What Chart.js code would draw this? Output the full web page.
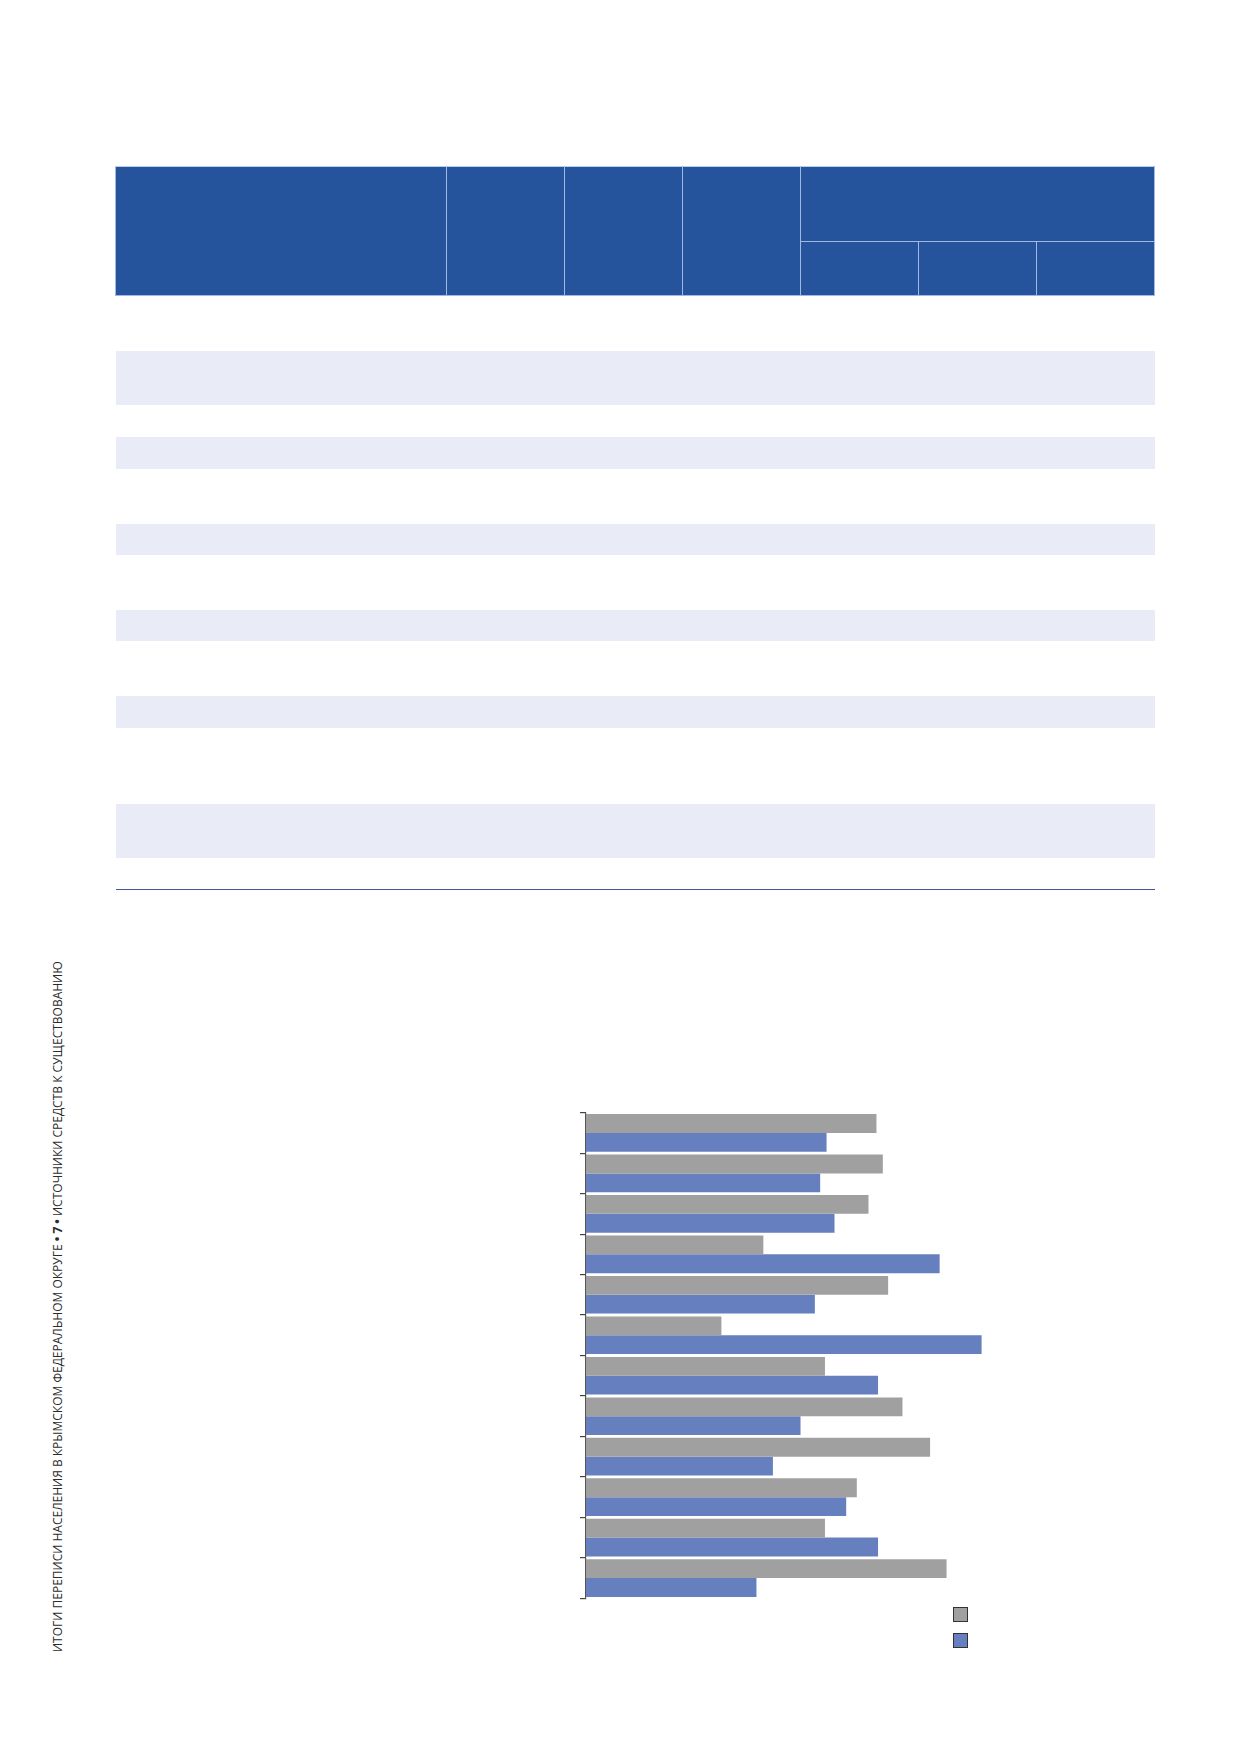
<!DOCTYPE html>
<html lang="ru">
<head>
<meta charset="utf-8">
<title>Источники средств к существованию</title>
<script src="https://cdn.jsdelivr.net/npm/chart.js@4.4.1/dist/chart.umd.min.js"></script>
<style>
  html, body { margin: 0; padding: 0; background: #fff; }
  body { width: 1239px; height: 1754px; position: relative; overflow: hidden; font-family: "Open Sans", sans-serif; }

  /* ---- таблица ---- */
  .tbl { position: absolute; left: 115px; top: 166px; width: 1039px; border-collapse: collapse; table-layout: fixed; }
  .tbl th { background: #26549c; border: 1px solid #9fb8e4; padding: 0; }
  .tbl thead tr:first-child th { border-top-color: #b9cdee; }
  .tbl td { padding: 0; border: none; }
  .tbl tbody tr:nth-child(even) td { background: #e9ecf7; }
  .tbl tbody tr:last-child td { border-bottom: 1.5px solid #3d5a9a; }

  /* ---- боковой колонтитул ---- */
  .side {
    position: absolute; left: 50px; top: 900px; height: 752px; width: 16px;
    writing-mode: vertical-rl; transform: rotate(180deg);
    font-size: 12px; color: #2b2b2b; white-space: nowrap; text-align: start;
    line-height: 16px;
  }
  .side b { font-weight: 700; }

  /* ---- график ---- */
  .chart-box { position: absolute; left: 560px; top: 1100px; width: 600px; height: 520px; }
  .legend { position: absolute; left: 953px; top: 1607px; }
  .legend .item { width: 12.5px; height: 12.5px; border: 1.5px solid #333; margin-bottom: 11.5px; }
</style>
</head>
<body>

<table class="tbl">
  <colgroup>
    <col style="width:331px"><col style="width:118px"><col style="width:118px"><col style="width:118px">
    <col style="width:118px"><col style="width:118px"><col style="width:118px">
  </colgroup>
  <thead>
    <tr style="height:75px"><th rowspan="2"></th><th rowspan="2"></th><th rowspan="2"></th><th rowspan="2"></th><th colspan="3"></th></tr>
    <tr style="height:54px"><th></th><th></th><th></th></tr>
  </thead>
  <tbody>
    <tr style="height:55px"><td colspan="7"></td></tr>
    <tr style="height:54px"><td colspan="7"></td></tr>
    <tr style="height:32px"><td colspan="7"></td></tr>
    <tr style="height:32px"><td colspan="7"></td></tr>
    <tr style="height:55px"><td colspan="7"></td></tr>
    <tr style="height:31px"><td colspan="7"></td></tr>
    <tr style="height:55px"><td colspan="7"></td></tr>
    <tr style="height:31px"><td colspan="7"></td></tr>
    <tr style="height:55px"><td colspan="7"></td></tr>
    <tr style="height:32px"><td colspan="7"></td></tr>
    <tr style="height:76px"><td colspan="7"></td></tr>
    <tr style="height:54px"><td colspan="7"></td></tr>
    <tr style="height:32px"><td colspan="7"></td></tr>
  </tbody>
</table>

<div class="side">ИТОГИ ПЕРЕПИСИ НАСЕЛЕНИЯ В КРЫМСКОМ ФЕДЕРАЛЬНОМ ОКРУГЕ <b>• 7 •</b> ИСТОЧНИКИ СРЕДСТВ К СУЩЕСТВОВАНИЮ</div>

<div class="chart-box"><canvas id="barChart" width="600" height="520"></canvas></div>
<div class="legend" id="legend"></div>

<script>
/* ---- Данные (доли, %) ---- */
const categories = ['1', '2', '3', '4', '5', '6', '7', '8', '9', '10', '11', '12'];
const seriesNames = ['Серия 1', 'Серия 2'];
const grayValues = [54.7, 55.9, 53.2, 33.4, 56.9, 25.5, 45.0, 59.6, 64.8, 51.0, 45.0, 67.9];
const blueValues = [45.3, 44.1, 46.8, 66.6, 43.1, 74.5, 55.0, 40.4, 35.2, 49.0, 55.0, 32.1];

const COLOR_GRAY = '#a0a0a0';
const COLOR_BLUE = '#667fbf';

document.addEventListener('DOMContentLoaded', () => {
  initBarChart();
  initLegend();
});

function initBarChart() {
  const canvas = document.getElementById('barChart');
  if (!canvas) return;

  new Chart(canvas, {
    type: 'bar',
    data: {
      labels: categories,
      datasets: [
        { label: seriesNames[0], data: grayValues, backgroundColor: COLOR_GRAY },
        { label: seriesNames[1], data: blueValues, backgroundColor: COLOR_BLUE },
      ],
    },
    options: {
      indexAxis: 'y',
      responsive: false,
      animation: false,
      devicePixelRatio: 1,
      layout: { padding: { left: 0, top: 12.7, right: 43, bottom: 21.7 } },
      datasets: { bar: { categoryPercentage: 0.93, barPercentage: 1.0 } },
      plugins: { legend: { display: false }, tooltip: { enabled: false } },
      scales: {
        x: { display: false, min: 0, max: 100 },
        y: {
          ticks: { display: false },
          grid: { offset: true, drawOnChartArea: false, tickLength: 6, tickColor: '#444', lineWidth: 1.2 },
          border: { color: '#555', width: 1.2 },
          afterFit: (s) => { s.width = 26; },
        },
      },
    },
  });
}

/* ---- Легенда: только маркеры ---- */
function initLegend() {
  const box = document.getElementById('legend');
  [COLOR_GRAY, COLOR_BLUE].forEach((c, i) => {
    const el = document.createElement('div');
    el.className = 'item';
    el.style.background = c;
    el.title = seriesNames[i];
    box.appendChild(el);
  });
}
</script>
</body>
</html>
